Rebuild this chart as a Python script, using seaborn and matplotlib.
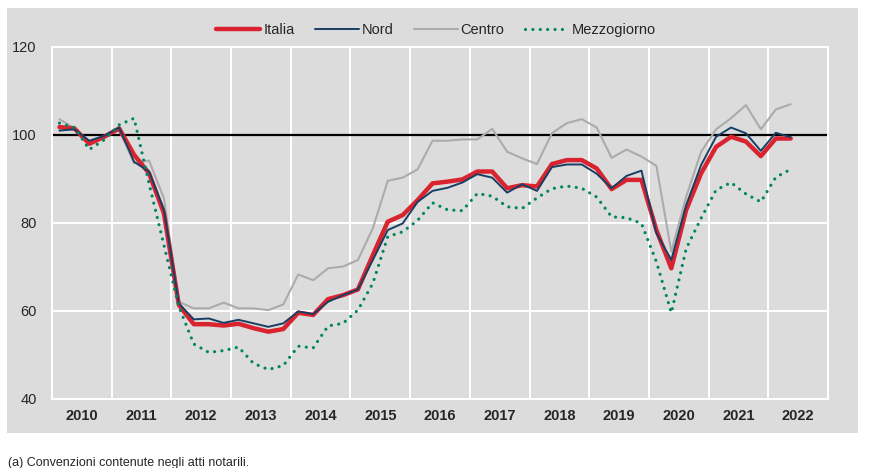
import numpy as np
import pandas as pd
import seaborn as sns
from matplotlib import pyplot as plt
from matplotlib.patches import Rectangle

# Serie trimestrali 2010 T1 - 2022 T2 (indice, 2010 = 100)
years = list(range(2010, 2023))
quarters = [y + (q - 0.5) / 4 for y in years for q in range(1, 5)][:50]

italia = [101.8, 101.5, 98.0, 99.6, 101.5, 95.5, 91.3, 82.2, 61.4, 57.0,
          57.0, 56.7, 57.1, 56.1, 55.3, 55.9, 59.6, 59.1, 62.7, 63.6,
          64.9, 72.7, 80.3, 81.8, 85.2, 89.0, 89.4, 89.9, 91.7, 91.7,
          87.9, 88.6, 88.3, 93.4, 94.3, 94.3, 92.4, 87.7, 89.8, 89.8,
          78.4, 69.7, 83.0, 91.3, 97.3, 99.6, 98.5, 95.2, 99.2, 99.2]
nord = [101.0, 101.3, 98.7, 99.8, 101.7, 93.9, 91.7, 83.0, 61.7, 58.1,
        58.3, 57.3, 58.0, 57.2, 56.4, 57.2, 59.9, 59.3, 62.1, 63.6,
        64.9, 71.6, 78.4, 79.9, 84.8, 87.3, 88.0, 89.2, 91.1, 90.3,
        86.9, 88.8, 87.3, 92.7, 93.3, 93.3, 91.2, 87.9, 90.7, 91.9,
        77.7, 71.6, 84.1, 93.2, 99.6, 101.7, 100.4, 96.4, 100.5, 99.5]
centro = [103.6, 101.5, 98.0, 99.6, 101.1, 93.6, 94.2, 85.6, 62.1, 60.6,
          60.6, 61.9, 60.6, 60.6, 60.2, 61.5, 68.3, 67.0, 69.7, 70.1,
          71.6, 78.8, 89.6, 90.3, 92.2, 98.7, 98.7, 99.0, 99.0, 101.4,
          96.2, 94.7, 93.4, 100.4, 102.7, 103.6, 101.7, 94.8, 96.7, 95.1,
          93.0, 73.5, 86.0, 96.2, 101.3, 103.8, 106.8, 101.3, 105.8, 107.0]
mezzogiorno = [102.7, 101.7, 96.7, 98.9, 102.3, 103.8, 89.0, 75.0, 61.0, 52.5,
               50.6, 51.0, 51.8, 48.1, 46.7, 47.6, 52.0, 51.6, 56.6, 57.2,
               60.2, 66.3, 76.9, 78.0, 80.6, 84.6, 83.0, 82.8, 86.7, 86.1,
               83.7, 83.3, 85.7, 87.8, 88.4, 87.9, 85.9, 81.4, 81.2, 79.9,
               71.2, 59.6, 74.2, 81.1, 87.5, 89.2, 86.6, 84.8, 90.4, 92.2]

df = pd.DataFrame({
    "periodo": quarters,
    "Italia": italia,
    "Nord": nord,
    "Centro": centro,
    "Mezzogiorno": mezzogiorno,
})

sns.set_style("darkgrid", {"axes.facecolor": "#dcdcdc", "grid.color": "white"})
plt.rcParams["font.family"] = ["Liberation Sans", "DejaVu Sans"]

fig = plt.figure(figsize=(8.9, 4.68), dpi=100)
fig.patches.append(Rectangle((7 / 890, 1 - 433 / 468), 851 / 890, 425 / 468,
                             transform=fig.transFigure, facecolor="#dcdcdc",
                             edgecolor="none", zorder=-1))
ax = fig.add_axes([52 / 890, 1 - 399 / 468, 776 / 890, 352 / 468])

# stile delle serie (ordine di disegno: Centro sotto, Mezzogiorno sopra)
styles = {
    "Centro": dict(color="#ababab", linewidth=1.5, zorder=3),
    "Italia": dict(color="#d9232f", linewidth=3.2, zorder=4),
    "Nord": dict(color="#173f63", linewidth=1.4, zorder=5),
    "Mezzogiorno": dict(color="#00855f", linewidth=2.3, zorder=6,
                        linestyle=(0, (0.01, 2.3)), dash_capstyle="round"),
}
for name in ["Centro", "Italia", "Nord", "Mezzogiorno"]:
    sns.lineplot(data=df, x="periodo", y=name, ax=ax, label=name, **styles[name])

ax.axhline(100, color="black", linewidth=1.6, zorder=2)

ax.set_xlim(2010, 2023)
ax.set_ylim(40, 120)
ax.set_xticks(range(2010, 2024))
ax.set_xticklabels([])
ax.set_xticks([y + 0.5 for y in years], minor=True)
ax.set_xticklabels([str(y) for y in years], minor=True,
                   fontweight="bold", fontsize=10.5)
ax.set_yticks([40, 60, 80, 100, 120])
ax.tick_params(axis="both", which="both", length=0)
ax.tick_params(axis="x", which="minor", pad=7)
ax.tick_params(axis="y", labelsize=10.5, pad=11)
ax.grid(which="major", color="white", linewidth=1.4)
ax.set_xlabel("")
ax.set_ylabel("")
for sp in ax.spines.values():
    sp.set_visible(True)
    sp.set_color("white")
    sp.set_linewidth(1.4)

handles, labels = ax.get_legend_handles_labels()
order = [labels.index(n) for n in ["Italia", "Nord", "Centro", "Mezzogiorno"]]
ax.get_legend().remove()
fig.legend([handles[i] for i in order], [labels[i] for i in order],
           loc="center", bbox_to_anchor=(436 / 890, 1 - 30 / 468), ncol=4,
           frameon=False, fontsize=10.5, handlelength=3.0, handletextpad=0.2,
           columnspacing=1.4)

fig.text(8 / 890, 1 - 463 / 468, "(a) Convenzioni contenute negli atti notarili.",
         fontsize=9, va="center", ha="left")

fig.savefig("out.png", dpi=100)
